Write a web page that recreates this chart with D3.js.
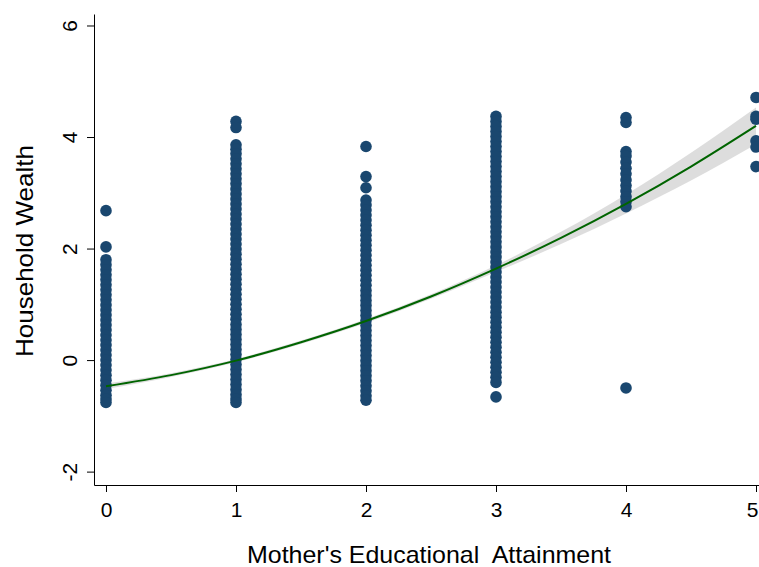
<!DOCTYPE html>
<html>
<head>
<meta charset="utf-8">
<script src="https://cdn.jsdelivr.net/npm/d3@7"></script>
<style>
  body { margin: 0; background: #fff; }
  svg { display: block; font-family: "Liberation Sans", Arial, sans-serif; }
</style>
</head>
<body>
<svg id="chart" width="759" height="567"></svg>
<script>
// household wealth by mother's education level
const educLevels = [0, 1, 2, 3, 4, 5]
const wealth0 = [2.68, 2.03, 1.80, 1.71, 1.62, 1.53, 1.44, 1.35, 1.26, 1.17, 1.08, 0.99, 0.90, 0.81, 0.72,
  0.63, 0.54, 0.45, 0.36, 0.27, 0.18, 0.09, 0.00, -0.09, -0.18, -0.27, -0.36, -0.45, -0.54, -0.63, -0.70, -0.76]
const wealth1 = [4.28, 4.17, 3.86, 3.78, 3.70, 3.61, 3.52, 3.43, 3.34, 3.25, 3.16, 3.07, 2.98, 2.89, 2.80,
  2.71, 2.62, 2.53, 2.44, 2.35, 2.26, 2.17, 2.08, 1.99, 1.90, 1.81, 1.72, 1.63, 1.54, 1.45, 1.36, 1.27,
  1.18, 1.09, 1.00, 0.91, 0.82, 0.73, 0.64, 0.55, 0.46, 0.37, 0.28, 0.19, 0.10, 0.01, -0.08, -0.17,
  -0.26, -0.35, -0.44, -0.53, -0.62, -0.70, -0.76]
const wealth2 = [3.83, 3.29, 3.09, 2.87, 2.78, 2.69, 2.60, 2.51, 2.42, 2.33, 2.24, 2.15, 2.06, 1.97, 1.88,
  1.79, 1.70, 1.61, 1.52, 1.43, 1.34, 1.25, 1.16, 1.07, 0.98, 0.89, 0.80, 0.71, 0.62, 0.53, 0.44, 0.35,
  0.26, 0.17, 0.08, -0.01, -0.10, -0.19, -0.28, -0.37, -0.46, -0.55, -0.64, -0.72]
const wealth3 = [4.37, 4.28, 4.19, 4.10, 4.01, 3.92, 3.83, 3.74, 3.65, 3.56, 3.47, 3.38, 3.29, 3.20, 3.11,
  3.02, 2.93, 2.84, 2.75, 2.66, 2.57, 2.48, 2.39, 2.30, 2.21, 2.12, 2.03, 1.94, 1.85, 1.76, 1.67, 1.58,
  1.49, 1.40, 1.31, 1.22, 1.13, 1.04, 0.95, 0.86, 0.77, 0.68, 0.59, 0.50, 0.41, 0.32, 0.23, 0.14, 0.05,
  -0.04, -0.13, -0.22, -0.31, -0.40, -0.66]
const wealth4 = [4.35, 4.26, 3.74, 3.66, 3.55, 3.44, 3.34, 3.23, 3.13, 3.03, 2.93, 2.84, 2.75, -0.50]
const wealth5 = [4.71, 4.37, 4.32, 3.93, 3.82, 3.47]
const wealthByLevel = [wealth0, wealth1, wealth2, wealth3, wealth4, wealth5]

// quadratic fit with 95% band
const fitX = [0, 0.5, 1, 1.5, 2, 2.5, 3, 3.5, 4, 4.5, 5]
const fitY = [-0.47, -0.27, -0.01, 0.32, 0.70, 1.14, 1.64, 2.19, 2.80, 3.47, 4.20]
const ciLow = [-0.52, -0.305, -0.04, 0.29, 0.665, 1.10, 1.58, 2.08, 2.63, 3.22, 3.87]
const ciHigh = [-0.42, -0.235, 0.02, 0.35, 0.735, 1.18, 1.70, 2.30, 2.97, 3.72, 4.53]

const xTicks = [0, 1, 2, 3, 4, 5]
const yTicks = [-2, 0, 2, 4, 6]

let svg = d3.select('#chart')

let x = d3.scaleLinear().domain([-0.0923, 5.023]).range([94, 759])
let y = d3.scaleLinear().domain([-2.24, 6.206]).range([485, 14])

let points = []
educLevels.forEach((lvl, i) => {
  wealthByLevel[i].forEach(v => points.push({ educ: lvl, wealth: v }))
})

// ci band
let band = fitX.map((d, i) => ({ x: d, lo: ciLow[i], hi: ciHigh[i] }))
svg.append('path')
  .datum(band)
  .attr('fill', '#d4d4d4')
  .attr('opacity', 0.8)
  .attr('d', d3.area().curve(d3.curveMonotoneX)
    .x(d => x(d.x)).y0(d => y(d.lo)).y1(d => y(d.hi)))

svg.append('g')
  .selectAll('circle')
  .data(points)
  .enter()
  .append('circle')
  .attr('cx', d => x(d.educ))
  .attr('cy', d => y(d.wealth))
  .attr('r', 5.8)
  .attr('fill', '#1a476f')

let fit = fitX.map((d, i) => ({ x: d, y: fitY[i] }))
svg.append('path')
  .datum(fit)
  .attr('fill', 'none')
  .attr('stroke', '#006400')
  .attr('stroke-width', 2)
  .attr('d', d3.line().curve(d3.curveMonotoneX).x(d => x(d.x)).y(d => y(d.y)))

// axes
let fmt = d => String(d)
let xAxis = svg.append('g')
  .attr('transform', 'translate(0,485)')
  .call(d3.axisBottom(x).tickValues(xTicks).tickFormat(fmt).tickSize(7).tickSizeOuter(0).tickPadding(10))
let yAxis = svg.append('g')
  .attr('transform', 'translate(94,0)')
  .call(d3.axisLeft(y).tickValues(yTicks).tickFormat(fmt).tickSize(7).tickSizeOuter(0))

;[xAxis, yAxis].forEach(a => {
  a.select('.domain').attr('stroke', '#000')
  a.selectAll('.tick line').attr('stroke', '#000')
  a.selectAll('text').attr('font-size', 21).attr('fill', '#000')
    .attr('font-family', '"Liberation Sans", Arial, sans-serif')
})

yAxis.selectAll('.tick text')
  .attr('x', 0).attr('dy', 0)
  .attr('text-anchor', 'middle')
  .attr('transform', 'translate(-17,0) rotate(-90)')

xAxis.selectAll('.tick text').filter(d => d == 5).attr('dx', -4)

svg.append('text')
  .attr('x', 429)
  .attr('y', 563)
  .attr('text-anchor', 'middle')
  .attr('font-size', 24)
  .attr('textLength', 364)
  .attr('lengthAdjust', 'spacingAndGlyphs')
  .text("Mother's Educational\u00a0 Attainment")

svg.append('text')
  .attr('transform', 'translate(33,251) rotate(-90)')
  .attr('text-anchor', 'middle')
  .attr('font-size', 24)
  .attr('textLength', 212)
  .attr('lengthAdjust', 'spacingAndGlyphs')
  .text('Household Wealth')
</script>
</body>
</html>
